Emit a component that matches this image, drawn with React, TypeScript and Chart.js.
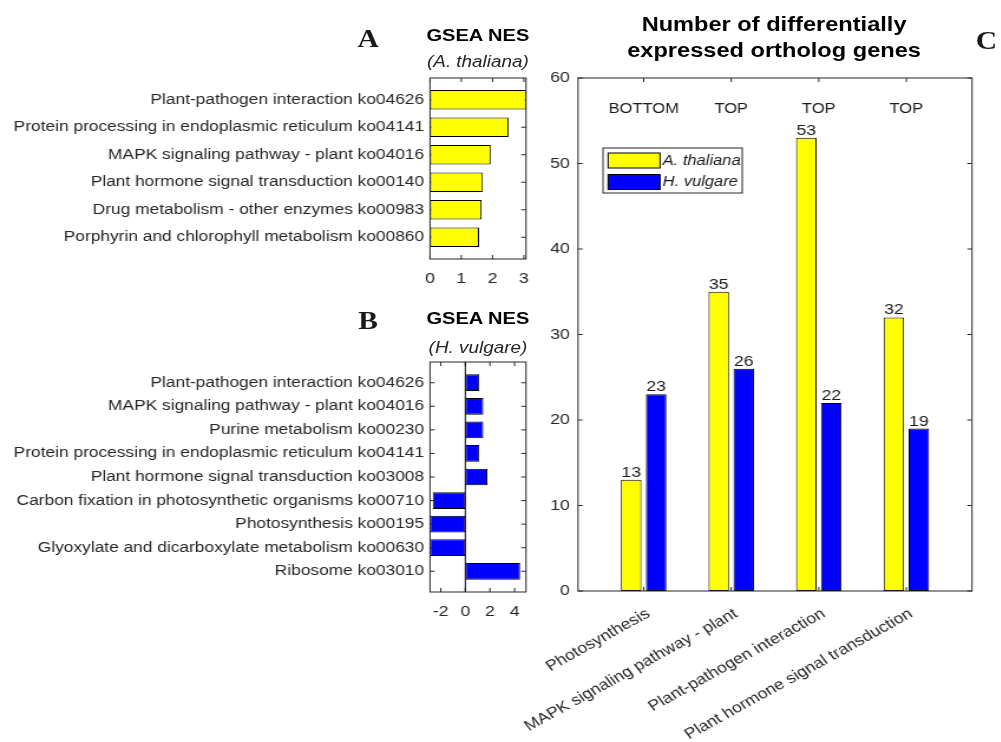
import React, { useEffect, useRef } from "react";
import { Chart, registerables } from "chart.js";

Chart.register(...registerables);

// ---------------- data ----------------
const panelACategories = [
  "Plant-pathogen interaction ko04626",
  "Protein processing in endoplasmic reticulum ko04141",
  "MAPK signaling pathway - plant ko04016",
  "Plant hormone signal transduction ko00140",
  "Drug metabolism - other enzymes ko00983",
  "Porphyrin and chlorophyll metabolism ko00860",
];
const panelANES = [3.07, 2.51, 1.94, 1.69, 1.65, 1.57];
const panelATicks = [0, 1, 2, 3];

const panelBCategories = [
  "Plant-pathogen interaction ko04626",
  "MAPK signaling pathway - plant ko04016",
  "Purine metabolism ko00230",
  "Protein processing in endoplasmic reticulum ko04141",
  "Plant hormone signal transduction ko03008",
  "Carbon fixation in photosynthetic organisms ko00710",
  "Photosynthesis ko00195",
  "Glyoxylate and dicarboxylate metabolism ko00630",
  "Ribosome ko03010",
];
const panelBNES = [1.14, 1.46, 1.46, 1.14, 1.79, -2.65, -2.87, -2.87, 4.45];
const panelBTicks = [-2, 0, 2, 4];

const panelCCategories = [
  "Photosynthesis",
  "MAPK signaling pathway - plant",
  "Plant-pathogen interaction",
  "Plant hormone signal transduction",
];
const panelCThaliana = [13, 35, 53, 32];
const panelCVulgare = [23, 26, 22, 19];
const panelCRegulation = ["BOTTOM", "TOP", "TOP", "TOP"];
const panelCTicks = [0, 10, 20, 30, 40, 50, 60];
const seriesNames = ["A. thaliana", "H. vulgare"];

// ---------------- layout / style ----------------
const SX = 1.18; // the figure is drawn horizontally stretched
const W = 849;
const H = 742;
const FONT = "'Liberation Sans', Arial, sans-serif";
const TEXT = "#262626";
const YELLOW = "#ffff00";
const BLUE = "#0000ff";

const framePlugin: any = {
  id: "frame",
  beforeDatasetsDraw(chart: any) {
    const { ctx, chartArea: a, scales } = chart;
    const L = 4;
    ctx.save();
    ctx.strokeStyle = TEXT;
    ctx.lineWidth = 1;
    ctx.beginPath();
    scales.x.ticks.forEach((t: any) => {
      const x = scales.x.getPixelForValue(t.value);
      ctx.moveTo(x, a.bottom);
      ctx.lineTo(x, a.bottom - L);
      ctx.moveTo(x, a.top);
      ctx.lineTo(x, a.top + L);
    });
    scales.y.ticks.forEach((t: any) => {
      const y = scales.y.getPixelForValue(t.value);
      ctx.moveTo(a.left, y);
      ctx.lineTo(a.left + L, y);
      ctx.moveTo(a.right, y);
      ctx.lineTo(a.right - L, y);
    });
    ctx.stroke();
    ctx.restore();
  },
  afterDatasetsDraw(chart: any, _args: any, opts: any) {
    const { ctx, chartArea: a, scales } = chart;
    ctx.save();
    if (opts && opts.zeroLine) {
      const x = scales.x.getPixelForValue(0);
      ctx.strokeStyle = "#000";
      ctx.lineWidth = 1;
      ctx.beginPath();
      ctx.moveTo(x, a.top);
      ctx.lineTo(x, a.bottom);
      ctx.stroke();
    }
    ctx.strokeStyle = TEXT;
    ctx.lineWidth = 1;
    ctx.strokeRect(a.left, a.top, a.right - a.left, a.bottom - a.top);
    ctx.restore();
  },
};

const valueLabelPlugin: any = {
  id: "valueLabels",
  afterDatasetsDraw(chart: any) {
    const { ctx } = chart;
    ctx.save();
    ctx.font = `15px ${FONT}`;
    ctx.fillStyle = "#1a1a1a";
    ctx.textAlign = "center";
    ctx.textBaseline = "alphabetic";
    chart.data.datasets.forEach((ds: any, di: number) => {
      const meta = chart.getDatasetMeta(di);
      meta.data.forEach((el: any, i: number) => {
        ctx.fillText(String(ds.data[i].y), el.x, el.y - 3);
      });
    });
    ctx.restore();
  },
};

const annotPlugin: any = {
  id: "annot",
  afterDraw(chart: any, _args: any, opts: any) {
    const { ctx, chartArea: a, scales } = chart;
    ctx.save();
    // regulation labels
    ctx.font = `14px ${FONT}`;
    ctx.fillStyle = "#1a1a1a";
    ctx.textAlign = "center";
    ctx.textBaseline = "middle";
    opts.labels.forEach((s: string, i: number) => {
      ctx.fillText(s, scales.x.getPixelForValue(i + 1), scales.y.getPixelForValue(opts.labelValue));
    });
    // legend
    const lx = a.left + opts.legend.dx;
    const ly = a.top + opts.legend.dy;
    ctx.fillStyle = "#fff";
    ctx.fillRect(lx, ly, opts.legend.w, opts.legend.h);
    ctx.strokeStyle = TEXT;
    ctx.lineWidth = 1;
    ctx.strokeRect(lx, ly, opts.legend.w, opts.legend.h);
    ctx.font = `italic 14px ${FONT}`;
    ctx.textAlign = "left";
    chart.data.datasets.forEach((ds: any, i: number) => {
      const cy = ly + opts.legend.rows[i];
      ctx.fillStyle = ds.backgroundColor;
      ctx.fillRect(lx + 4.3, cy - 7.5, 44, 15);
      ctx.strokeStyle = "#000";
      ctx.strokeRect(lx + 4.3, cy - 7.5, 44, 15);
      ctx.fillStyle = "#1a1a1a";
      ctx.fillText(ds.label, lx + 50.5, cy + 0.5);
    });
    ctx.restore();
  },
};

const numFont = { family: FONT, size: 15 };
const catFont = { family: FONT, size: 14.7 };

function hbarConfig(
  categories: string[],
  values: number[],
  ticks: number[],
  color: string,
  xmin: number,
  xmax: number,
  ymin: number,
  ymax: number,
  top: number,
  bottom: number,
  zeroLine: boolean
): any {
  const left = 430 / SX;
  const right = 526 / SX;
  return {
    type: "bar",
    data: {
      datasets: [
        {
          data: values.map((v, i) => ({ x: v, y: i + 1 })),
          backgroundColor: color,
          borderColor: "#000",
          borderWidth: 1,
          borderSkipped: false,
          barPercentage: 0.71,
          categoryPercentage: 1,
          clip: 0,
        },
      ],
    },
    plugins: [framePlugin],
    options: {
      indexAxis: "y",
      responsive: false,
      animation: false,
      layout: { padding: { left: 0, top, right: W - right, bottom: 0 } },
      scales: {
        x: {
          type: "linear",
          min: xmin,
          max: xmax,
          offset: false,
          grid: { display: false, drawTicks: false },
          border: { display: false },
          ticks: { font: numFont, color: TEXT, padding: 11, maxRotation: 0 },
          afterBuildTicks: (s: any) => {
            s.ticks = ticks.map((v) => ({ value: v }));
          },
          afterFit: (s: any) => {
            s.height = H - bottom;
          },
        },
        y: {
          type: "linear",
          reverse: true,
          min: ymin,
          max: ymax,
          offset: false,
          grid: { display: false, drawTicks: false, offset: false },
          border: { display: false },
          ticks: {
            font: catFont,
            color: TEXT,
            padding: 5,
            autoSkip: false,
            callback: (v: number) => categories[v - 1],
          },
          afterBuildTicks: (s: any) => {
            s.ticks = categories.map((_, i) => ({ value: i + 1 }));
          },
          afterFit: (s: any) => {
            s.width = left;
          },
        },
      },
      plugins: {
        legend: { display: false },
        tooltip: { enabled: false },
        frame: { zeroLine },
      },
    },
  };
}

function groupedConfig(): any {
  const left = 578 / SX;
  const right = 972 / SX;
  const mk = (vals: number[]) => vals.map((v, i) => ({ x: i + 1, y: v }));
  return {
    type: "bar",
    data: {
      datasets: [
        {
          label: seriesNames[0],
          data: mk(panelCThaliana),
          backgroundColor: YELLOW,
          borderColor: "#000",
          borderWidth: 1,
          borderSkipped: false,
          barPercentage: 0.82,
          categoryPercentage: 0.571,
        },
        {
          label: seriesNames[1],
          data: mk(panelCVulgare),
          backgroundColor: BLUE,
          borderColor: "#000",
          borderWidth: 1,
          borderSkipped: false,
          barPercentage: 0.82,
          categoryPercentage: 0.571,
        },
      ],
    },
    plugins: [framePlugin, valueLabelPlugin, annotPlugin],
    options: {
      responsive: false,
      animation: false,
      layout: { padding: { left: 0, top: 78, right: W - right, bottom: 0 } },
      scales: {
        x: {
          type: "linear",
          min: 0.25,
          max: 4.75,
          offset: false,
          grid: { display: false, drawTicks: false, offset: false },
          border: { display: false },
          ticks: {
            font: numFont,
            color: TEXT,
            padding: 14,
            labelOffset: 4,
            minRotation: 33,
            maxRotation: 33,
            autoSkip: false,
            callback: (v: number) => panelCCategories[v - 1],
          },
          afterBuildTicks: (s: any) => {
            s.ticks = panelCCategories.map((_, i) => ({ value: i + 1 }));
          },
          afterFit: (s: any) => {
            s.height = H - 591;
          },
        },
        y: {
          type: "linear",
          min: 0,
          max: 60,
          grid: { display: false, drawTicks: false },
          border: { display: false },
          ticks: { font: numFont, color: TEXT, padding: 7 },
          afterBuildTicks: (s: any) => {
            s.ticks = panelCTicks.map((v) => ({ value: v }));
          },
          afterFit: (s: any) => {
            s.width = left;
          },
        },
      },
      plugins: {
        legend: { display: false },
        tooltip: { enabled: false },
        annot: {
          labels: panelCRegulation,
          labelValue: 56.4,
          legend: { dx: 21.2, dy: 70, w: 118, h: 45, rows: [12.5, 34] },
        },
      },
    },
  };
}

const abs = (x: number, y: number, style: any): any => ({
  position: "absolute",
  left: x,
  top: y,
  transform: "translate(-50%, -50%)",
  whiteSpace: "nowrap",
  lineHeight: 1,
  ...style,
});

export default function App() {
  const refA = useRef<HTMLCanvasElement>(null);
  const refB = useRef<HTMLCanvasElement>(null);
  const refC = useRef<HTMLCanvasElement>(null);

  useEffect(() => {
    const charts: Chart[] = [];
    charts.push(
      new Chart(
        refA.current!,
        hbarConfig(panelACategories, panelANES, panelATicks, YELLOW, 0, 3.07, 0.21, 6.79, 78, 259, false)
      )
    );
    charts.push(
      new Chart(
        refB.current!,
        hbarConfig(panelBCategories, panelBNES, panelBTicks, BLUE, -2.87, 4.93, 0.12, 9.88, 362, 592, true)
      )
    );
    charts.push(new Chart(refC.current!, groupedConfig()));
    return () => charts.forEach((c) => c.destroy());
  }, []);

  const canvasStyle: any = { position: "absolute", left: 0, top: 0 };
  const sans = { fontFamily: FONT, color: "#000" };
  const letter = { fontFamily: "'Liberation Serif', 'Times New Roman', serif", fontWeight: 700, fontSize: 25, color: "#1a1a1a" };

  return (
    <div style={{ position: "fixed", left: 0, top: 0, width: 1001, height: 742, background: "#fff", overflow: "hidden" }}>
      <div style={{ position: "absolute", left: 0, top: 0, width: W, height: H, transform: `scaleX(${SX})`, transformOrigin: "0 0" }}>
        <canvas ref={refA} width={W} height={H} style={canvasStyle} />
        <canvas ref={refB} width={W} height={H} style={canvasStyle} />
        <canvas ref={refC} width={W} height={H} style={canvasStyle} />

        <div style={abs(312, 38, letter)}>A</div>
        <div style={abs(312, 320, letter)}>B</div>
        <div style={abs(836, 40, letter)}>C</div>

        <div style={abs(405, 35, { ...sans, fontWeight: 700, fontSize: 17 })}>GSEA NES</div>
        <div style={abs(405, 62, { ...sans, fontStyle: "italic", fontSize: 16, color: TEXT })}>(A. thaliana)</div>
        <div style={abs(405, 318, { ...sans, fontWeight: 700, fontSize: 17 })}>GSEA NES</div>
        <div style={abs(405, 348, { ...sans, fontStyle: "italic", fontSize: 16, color: TEXT })}>(H. vulgare)</div>

        <div style={abs(656, 24, { ...sans, fontWeight: 700, fontSize: 20 })}>Number of differentially</div>
        <div style={abs(656, 50, { ...sans, fontWeight: 700, fontSize: 20 })}>expressed ortholog genes</div>
      </div>
    </div>
  );
}
